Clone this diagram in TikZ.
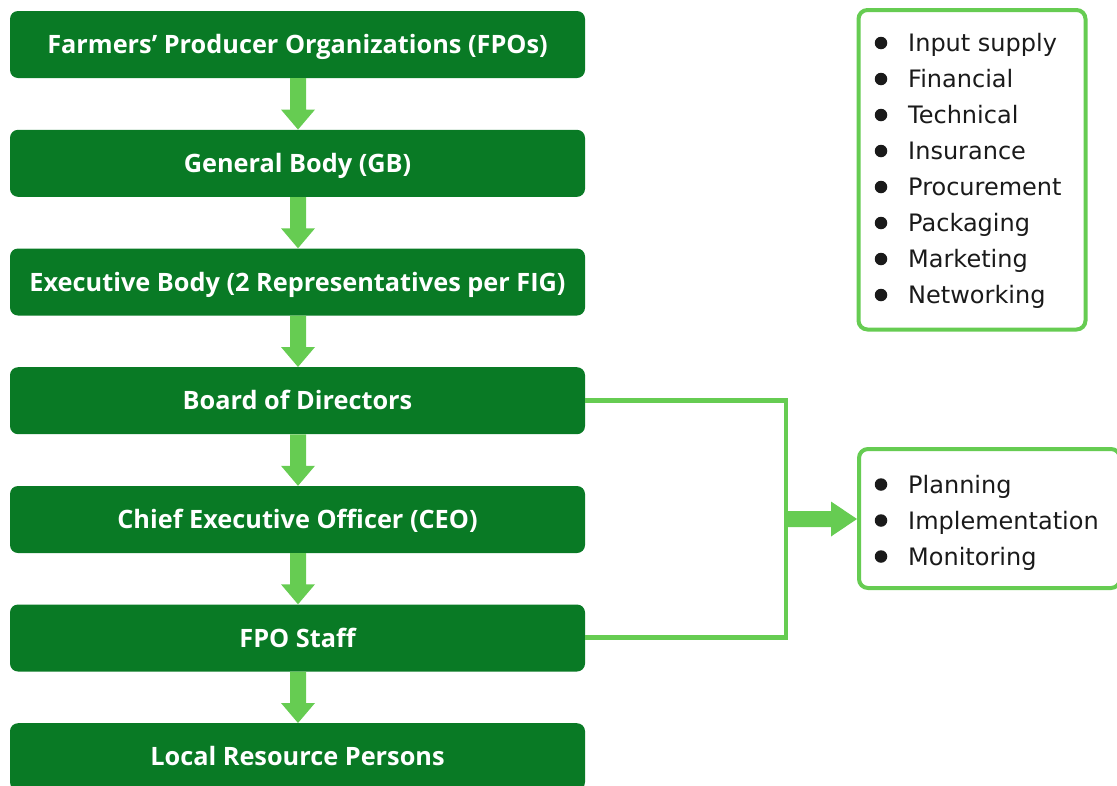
\documentclass[tikz,border=0pt]{standalone}
\usepackage{fontspec}
\setmainfont{Open Sans}
\newfontfamily\listfont{DejaVu Sans}
\usetikzlibrary{calc}
\definecolor{darkgreen}{RGB}{9,122,37}
\definecolor{lightgreen}{RGB}{102,204,82}
\definecolor{listtext}{RGB}{26,26,26}
\tikzset{
  x=1pt, y=-1pt,
  levelbox/.style={fill=darkgreen, rounded corners=8pt, minimum width=575pt, minimum height=67pt,
    inner sep=0pt, text height=18pt, text depth=0pt, text=white,
    font=\fontsize{25.3}{29}\selectfont\bfseries},
  listbox/.style={draw=lightgreen, line width=4pt, rounded corners=9pt, fill=white},
  listitem/.style={anchor=base west, inner sep=0pt, text=listtext, font=\listfont\fontsize{24}{28}\selectfont},
  bulletdot/.style={circle, fill=listtext, inner sep=0pt, minimum size=12.5pt},
  downarrow/.style={fill=lightgreen, draw=none},
  bracket/.style={draw=lightgreen, line width=4.5pt},
}
\begin{document}
\begin{tikzpicture}
\useasboundingbox (0,0) rectangle (1117,785);
\clip (0,0) rectangle (1117,785);

% hierarchy of levels
\node[levelbox] (fpo)   at (297.5,44.5)  {Farmers’ Producer Organizations (FPOs)};
\node[levelbox] (gb)    at (297.5,163.3) {General Body (GB)};
\node[levelbox] (eb)    at (297.5,282)   {Executive Body (2 Representatives per FIG)};
\node[levelbox] (bod)   at (297.5,400.7) {Board of Directors};
\node[levelbox] (ceo)   at (297.5,519.5) {Chief Executive Officer (CEO)};
\node[levelbox] (staff) at (297.5,638)   {FPO Staff};
\node[levelbox] (lrp)   at (297.5,756.7) {Local Resource Persons};

% block arrows between consecutive levels
\foreach \a/\b in {fpo/gb, gb/eb, eb/bod, bod/ceo, ceo/staff, staff/lrp}{
  \path (\a.south) ++(0.5,0) coordinate (s);
  \path (\b.north) ++(0.5,0) coordinate (t);
  \fill[downarrow] ($(s)+(-8,0)$) -- ($(s)+(8,0)$) -- ($(t)+(8,-20)$) -- ($(t)+(17,-20)$)
    -- (t) -- ($(t)+(-17,-20)$) -- ($(t)+(-8,-20)$) -- cycle;
}

% services box
\draw[listbox] (858.5,10) rectangle (1085.5,329.5);
\foreach \t [count=\i from 0] in {Input supply, Financial, Technical, Insurance, Procurement, Packaging, Marketing, Networking}{
  \node[bulletdot] (sb\i) at (881,43+36*\i) {};
  \node[listitem] (si\i) at (908,51.5+36*\i) {\t};
}

% functions box
\draw[listbox] (859,449) rectangle (1120,588);
\coordinate (funcin) at (857,519);
\foreach \t [count=\i from 0] in {Planning, Implementation, Monitoring}{
  \node[bulletdot] (fb\i) at (881,484.5+36*\i) {};
  \node[listitem] (fi\i) at (908,493+36*\i) {\t};
}

% bracket joining board and staff
\coordinate (jt) at (786,400.7);
\coordinate (jb) at (786,637.5);
\coordinate (jm) at (786,519);
\draw[bracket] (bod.east |- jt) -- (jt) -- (jb) -- (staff.east |- jb);
\fill[lightgreen] ($(jm)+(0,-8)$) -- ($(jm)+(45,-8)$) -- ($(jm)+(45,-17.5)$) -- (funcin)
  -- ($(jm)+(45,17.5)$) -- ($(jm)+(45,8)$) -- ($(jm)+(0,8)$) -- cycle;
\end{tikzpicture}
\end{document}
